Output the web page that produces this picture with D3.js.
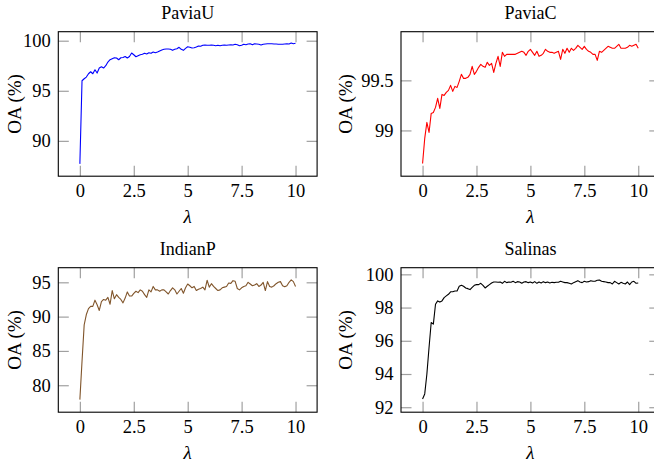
<!DOCTYPE html>
<html>
<head>
<meta charset="utf-8">
<script src="https://cdn.jsdelivr.net/npm/d3@7"></script>
<style>
  body { margin: 0; background: #fff; }
  svg { display: block; }
</style>
</head>
<body>
<div id="chart"></div>
<script>
// sample positions of lambda (0 to 10, step 0.1)
let lambdas = d3.range(0, 101).map(function(i) { return i / 10; });

let xTicks = [0, 2.5, 5, 7.5, 10];
let xTickLabels = ["0", "2.5", "5", "7.5", "10"];

let paviaU = [
    87.7, 96.0, 96.2, 96.37, 96.7, 96.9, 96.7, 97.1, 96.77, 97.27,
    97.4, 97.27, 97.5, 97.87, 98.1, 98.2, 98.3, 98.27, 98.1, 98.3,
    98.33, 98.43, 98.27, 98.43, 98.77, 98.6, 98.4, 98.5, 98.6, 98.64,
    98.74, 98.67, 98.8, 98.74, 98.87, 98.8, 98.87, 98.97, 99.07, 99.14,
    99.17, 99.17, 99.14, 99.04, 99.14, 99.2, 99.34, 99.14, 99.04, 99.24,
    99.4, 99.34, 99.27, 99.3, 99.37, 99.47, 99.44, 99.54, 99.57, 99.54,
    99.54, 99.57, 99.54, 99.5, 99.54, 99.5, 99.54, 99.57, 99.54, 99.57,
    99.6, 99.57, 99.64, 99.6, 99.5, 99.54, 99.64, 99.6, 99.67, 99.7,
    99.6, 99.7, 99.67, 99.64, 99.57, 99.64, 99.67, 99.7, 99.7, 99.7,
    99.67, 99.67, 99.64, 99.64, 99.64, 99.67, 99.7, 99.67, 99.77, 99.7,
    99.74
];

let paviaC = [
    98.67, 98.92, 99.08, 98.98, 99.17, 99.18, 99.23, 99.32, 99.22, 99.36,
    99.35, 99.38, 99.4, 99.45, 99.39, 99.44, 99.43, 99.49, 99.56, 99.52,
    99.52, 99.53, 99.56, 99.64, 99.56, 99.59, 99.63, 99.66, 99.64, 99.63,
    99.68, 99.65, 99.67, 99.58, 99.67, 99.74, 99.64, 99.78, 99.74, 99.76,
    99.76, 99.76, 99.76, 99.76, 99.77, 99.78, 99.79, 99.78, 99.75, 99.79,
    99.81, 99.78, 99.75, 99.79, 99.74, 99.75, 99.77, 99.81, 99.79, 99.78,
    99.78, 99.77, 99.78, 99.79, 99.71, 99.81, 99.77, 99.82, 99.78, 99.82,
    99.8, 99.82, 99.85, 99.83, 99.81, 99.84, 99.81, 99.79, 99.78, 99.76,
    99.76, 99.7, 99.79, 99.78, 99.8, 99.82, 99.84, 99.83, 99.82, 99.82,
    99.84, 99.86, 99.82, 99.82, 99.82, 99.83, 99.85, 99.84, 99.85, 99.86,
    99.82
];

let indianP = [
    77.9, 83.5, 88.8, 90.3, 91.16, 91.5, 91.5, 92.4, 91.74, 90.9,
    92.2, 92.5, 92.4, 92.8, 91.8, 93.8, 92.6, 93.2, 92.8, 92.5,
    92.0, 92.7, 93.6, 93.0, 93.0, 93.4, 93.7, 93.5, 93.9, 93.7,
    93.2, 92.8, 93.9, 93.6, 94.4, 93.9, 93.9, 93.7, 93.9, 93.9,
    93.6, 93.3, 93.8, 94.2, 93.9, 93.3, 93.7, 94.1, 93.4, 94.2,
    94.75, 94.5, 94.2, 94.4, 93.8, 94.0, 94.1, 94.3, 93.9, 95.3,
    94.3, 94.8, 94.4, 94.1, 93.8, 93.9, 94.2, 94.3, 94.4, 94.9,
    94.85, 95.24, 95.15, 94.1, 93.9, 94.2, 94.4, 94.5, 95.0, 94.75,
    94.5, 94.6, 94.8, 94.4, 94.6, 95.0, 93.8, 95.1, 94.4, 94.3,
    94.5, 94.8, 95.0, 95.1, 94.5, 94.35, 94.5, 95.0, 95.35, 95.1,
    94.4
];

let salinas = [
    92.5, 92.8, 94.0, 95.6, 97.1, 97.0, 98.2, 98.4, 98.33, 98.4,
    98.6, 98.7, 98.8, 98.95, 98.95, 99.0, 99.0, 99.28, 99.34, 99.28,
    99.18, 99.14, 99.08, 99.22, 99.34, 99.38, 99.38, 99.46, 99.34, 99.18,
    99.28, 99.38, 99.48, 99.54, 99.54, 99.52, 99.54, 99.46, 99.58, 99.5,
    99.54, 99.52, 99.58, 99.5, 99.56, 99.54, 99.46, 99.54, 99.56, 99.5,
    99.54, 99.48, 99.56, 99.46, 99.54, 99.48, 99.56, 99.5, 99.54, 99.48,
    99.52, 99.5, 99.52, 99.52, 99.58, 99.54, 99.5, 99.5, 99.46, 99.42,
    99.5, 99.56, 99.62, 99.54, 99.5, 99.58, 99.54, 99.56, 99.62, 99.58,
    99.58, 99.64, 99.66, 99.58, 99.56, 99.54, 99.5, 99.5, 99.42, 99.58,
    99.5, 99.42, 99.52, 99.46, 99.42, 99.54, 99.38, 99.54, 99.58, 99.46,
    99.48
];

let titles = ["PaviaU", "PaviaC", "IndianP", "Salinas"];
let seriesList = [paviaU, paviaC, indianP, salinas];
let yTickValues = [[90, 95, 100], [99, 99.5], [80, 85, 90, 95], [92, 94, 96, 98, 100]];
let yTickLabels = [["90", "95", "100"], ["99", "99.5"], ["80", "85", "90", "95"], ["92", "94", "96", "98", "100"]];
let yDomains = [[86.47, 100.9], [98.543, 99.986], [76.07, 97.13], [91.7, 100.4]];

let W = 654, H = 465;
let plotW = 258.8, plotH = 144.5;
let lefts = [58.3, 401, 58.3, 401];
let tops = [31.7, 31.7, 267.7, 267.7];
let colors = ["#0000ff", "#ff0000", "#80552b", "#000000"];
let ylabelOffset = [37, 49, 37, 49.5];
let tickLen = 10.5;
let serif = "'Liberation Serif', 'Times New Roman', serif";

let svg = d3.select("#chart").append("svg")
    .attr("width", W)
    .attr("height", H);

function drawPanel(k) {
    let x0 = lefts[k], y0 = tops[k];
    let g = svg.append("g")
        .attr("transform", "translate(" + x0 + "," + y0 + ")");

    let x = d3.scaleLinear().domain([-1, 11]).range([0, plotW]);
    let y = d3.scaleLinear().domain(yDomains[k]).range([plotH, 0]);

    // axes: ticks point inward on all four sides
    let bottom = g.append("g")
        .attr("transform", "translate(0," + plotH + ")")
        .call(d3.axisBottom(x).tickValues(xTicks)
            .tickFormat(function(d, i) { return xTickLabels[i]; })
            .tickSizeInner(-tickLen).tickSizeOuter(0).tickPadding(7.5));
    let top = g.append("g")
        .call(d3.axisTop(x).tickValues(xTicks).tickFormat("")
            .tickSizeInner(-tickLen).tickSizeOuter(0));
    let left = g.append("g")
        .call(d3.axisLeft(y).tickValues(yTickValues[k])
            .tickFormat(function(d, i) { return yTickLabels[k][i]; })
            .tickSizeInner(-tickLen).tickSizeOuter(0).tickPadding(7.5));
    let right = g.append("g")
        .attr("transform", "translate(" + plotW + ",0)")
        .call(d3.axisRight(y).tickValues(yTickValues[k]).tickFormat("")
            .tickSizeInner(-tickLen).tickSizeOuter(0));

    [bottom, top, left, right].forEach(function(a) {
        a.attr("font-family", serif).attr("font-size", 18.5);
        a.select(".domain").remove();
        a.selectAll(".tick line").attr("stroke", "#a0a0a0").attr("stroke-width", 1.2);
        a.selectAll(".tick text").attr("fill", "#000");
    });

    // the curve
    let line = d3.line()
        .x(function(d, i) { return x(lambdas[i]); })
        .y(function(d) { return y(d); });

    g.append("path")
        .datum(seriesList[k])
        .attr("fill", "none")
        .attr("stroke", colors[k])
        .attr("stroke-width", 1.1)
        .attr("stroke-linejoin", "round")
        .attr("d", line);

    // frame
    g.append("rect")
        .attr("width", plotW)
        .attr("height", plotH)
        .attr("fill", "none")
        .attr("stroke", "#000")
        .attr("stroke-width", 1.1);

    // title
    g.append("text")
        .attr("font-family", serif)
        .attr("font-size", 18)
        .attr("x", plotW / 2)
        .attr("y", -12.4)
        .attr("text-anchor", "middle")
        .text(titles[k]);

    // x label
    g.append("text")
        .attr("font-family", serif)
        .attr("font-size", 19)
        .attr("font-style", "italic")
        .attr("x", plotW / 2)
        .attr("y", plotH + 46.5)
        .attr("text-anchor", "middle")
        .text("λ");

    // y label
    g.append("text")
        .attr("font-family", serif)
        .attr("font-size", 19)
        .attr("transform", "translate(" + (-ylabelOffset[k]) + "," + (plotH / 2) + ") rotate(-90)")
        .attr("text-anchor", "middle")
        .text("OA (%)");
}

for (let k = 0; k < 4; k++) {
    drawPanel(k);
}
</script>
</body>
</html>
